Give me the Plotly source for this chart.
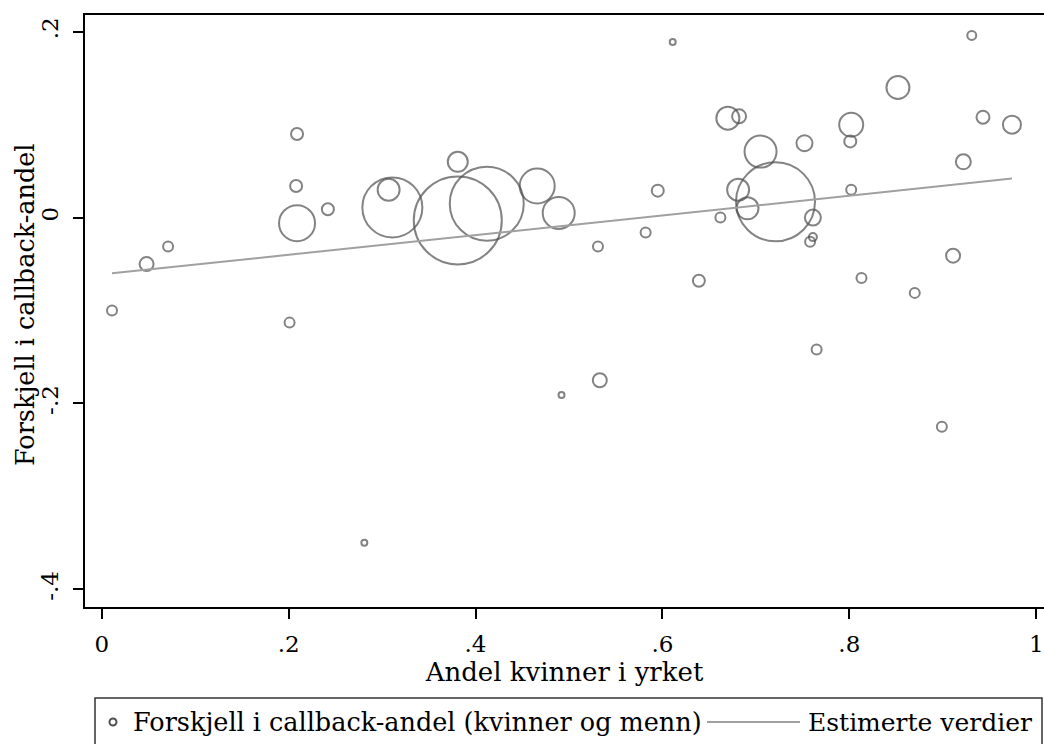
import plotly.graph_objects as go

# ---- data ----
andel_kvinner = [0.011, 0.048, 0.071, 0.201, 0.209, 0.208, 0.209, 0.242, 0.281, 0.311,
                 0.307, 0.381, 0.381, 0.412, 0.466, 0.489, 0.531, 0.492, 0.533, 0.611,
                 0.931, 0.852, 0.670, 0.682, 0.802, 0.801, 0.943, 0.974, 0.705, 0.752,
                 0.922, 0.595, 0.681, 0.721, 0.691, 0.802, 0.662, 0.761, 0.761, 0.758,
                 0.582, 0.639, 0.911, 0.813, 0.870, 0.765, 0.899]
forskjell = [-0.100, -0.050, -0.031, -0.113, 0.090, 0.034, -0.006, 0.009, -0.350, 0.011,
             0.030, -0.003, 0.060, 0.015, 0.034, 0.005, -0.031, -0.191, -0.175, 0.189,
             0.196, 0.140, 0.107, 0.109, 0.100, 0.082, 0.108, 0.100, 0.071, 0.080,
             0.060, 0.029, 0.030, 0.017, 0.010, 0.030, 0.000, 0.000, -0.021, -0.026,
             -0.016, -0.068, -0.041, -0.065, -0.081, -0.142, -0.225]
vekt = [25, 49, 25, 25, 36, 36, 324, 36, 9, 900,
        121, 1936, 100, 1369, 306, 256, 25, 9, 49, 9,
        20, 132, 132, 49, 144, 36, 42, 81, 256, 64,
        56, 36, 121, 1560, 121, 25, 25, 64, 16, 25,
        25, 36, 49, 25, 25, 25, 25]
fit_x = [0.011, 0.974]
fit_y = [-0.060, 0.042]

x_ticks = [0, 0.2, 0.4, 0.6, 0.8, 1]
x_ticktext = ["0", ".2", ".4", ".6", ".8", "1"]
y_ticks = [-0.4, -0.2, 0, 0.2]
y_ticktext = ["-.4", "-.2", "0", ".2"]

legend_labels = ["Forskjell i callback-andel (kvinner og menn)", "Estimerte verdier"]
x_title = "Andel kvinner i yrket"
y_title = "Forskjell i callback-andel"

# ---- styling ----
FONT = "DejaVu Serif"
W, H = 1044, 744
ML, MR, MT, MB = 85, 0, 15, 137
PW, PH = W - ML - MR, H - MT - MB
MARKER_COL = "#505050"
LINE_COL = "#a0a0a0"


def px_x(p):
    return (p - ML) / PW


def px_y(p):
    return (H - MB - p) / PH


fig = go.Figure()
fig.add_trace(go.Scatter(
    x=andel_kvinner, y=forskjell, mode="markers",
    marker=dict(size=vekt, sizemode="area", sizeref=0.5, symbol="circle",
                color="rgba(0,0,0,0)", line=dict(color=MARKER_COL, width=2)),
    showlegend=False, hoverinfo="x+y"))
fig.add_trace(go.Scatter(
    x=fit_x, y=fit_y, mode="lines",
    line=dict(color=LINE_COL, width=2), showlegend=False))

# manual legend (Stata style)
leg_y = 722
fig.add_shape(type="rect", xref="paper", yref="paper",
              x0=px_x(95), x1=px_x(1042), y0=px_y(698), y1=px_y(770),
              line=dict(color="#333333", width=1.5), fillcolor="white", layer="above")
fig.add_shape(type="circle", xref="paper", yref="paper",
              xsizemode="pixel", ysizemode="pixel",
              xanchor=px_x(113), yanchor=px_y(leg_y),
              x0=-3.5, x1=3.5, y0=-3.5, y1=3.5,
              line=dict(color=MARKER_COL, width=2), layer="above")
fig.add_shape(type="line", xref="paper", yref="paper",
              x0=px_x(707), x1=px_x(800), y0=px_y(leg_y), y1=px_y(leg_y),
              line=dict(color=LINE_COL, width=2), layer="above")
fig.add_annotation(text=legend_labels[0], xref="paper", yref="paper",
                   x=px_x(131), y=px_y(leg_y), xanchor="left", yanchor="middle",
                   showarrow=False, font=dict(family=FONT, size=25.5, color="black"))
fig.add_annotation(text=legend_labels[1], xref="paper", yref="paper",
                   x=px_x(806), y=px_y(leg_y), xanchor="left", yanchor="middle",
                   showarrow=False, font=dict(family=FONT, size=25, color="black"))

# y-axis title placed like Stata's
fig.add_annotation(text=y_title, xref="paper", yref="paper",
                   x=px_x(25), y=px_y(305), xanchor="center", yanchor="middle",
                   textangle=-90, showarrow=False,
                   font=dict(family=FONT, size=25.5, color="black"))

fig.update_layout(
    width=W, height=H,
    margin=dict(l=ML, r=MR, t=MT, b=MB, pad=0),
    paper_bgcolor="white", plot_bgcolor="white",
    font=dict(family=FONT, color="black"),
    xaxis=dict(range=[-0.0179, 1.0083], tickvals=x_ticks, ticktext=x_ticktext,
               ticks="outside", ticklen=10, tickwidth=1.5, tickcolor="black",
               showline=True, linewidth=2, linecolor="black", mirror=True,
               showgrid=False, zeroline=False,
               tickfont=dict(family=FONT, size=23, color="black"),
               ticklabelstandoff=5,
               title=dict(text=x_title, font=dict(family=FONT, size=26, color="black"),
                          standoff=4)),
    yaxis=dict(range=[-0.419, 0.218], tickvals=y_ticks, ticktext=y_ticktext,
               tickangle=-90,
               ticks="outside", ticklen=10, tickwidth=1.5, tickcolor="black",
               showline=True, linewidth=2, linecolor="black", mirror=False,
               showgrid=False, zeroline=False,
               tickfont=dict(family=FONT, size=23, color="black"),
               ticklabelstandoff=6),
)

fig.write_html("out.html")
